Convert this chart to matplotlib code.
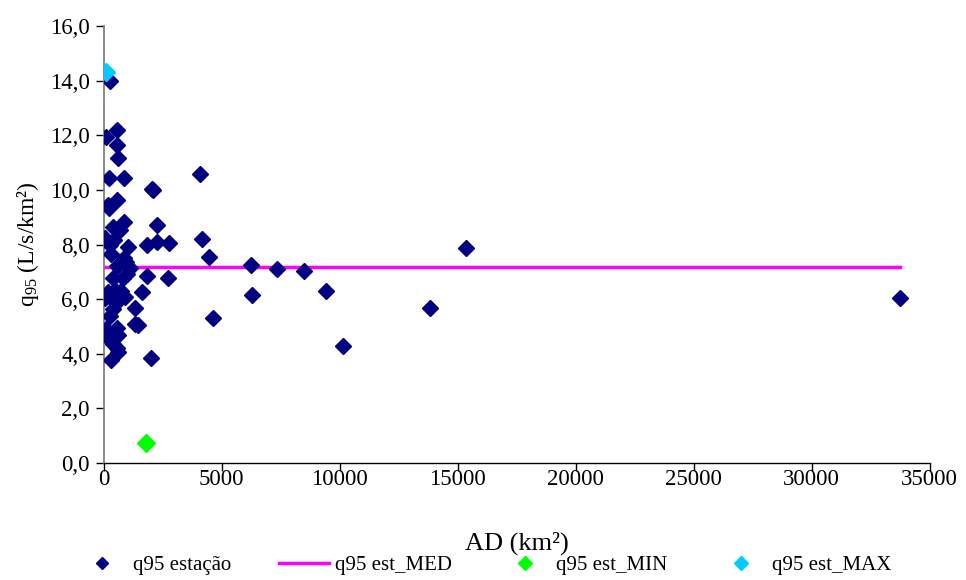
import matplotlib
matplotlib.use("Agg")
import matplotlib.pyplot as plt
from matplotlib.ticker import FuncFormatter, MultipleLocator

plt.rcParams['font.family'] = ['Liberation Serif', 'DejaVu Serif']
plt.rcParams['mathtext.fontset'] = 'custom'
plt.rcParams['mathtext.rm'] = 'Liberation Serif'
plt.rcParams['mathtext.it'] = 'Liberation Serif'

# station data: drainage area (km²) and q95 (L/s/km²)
ad_estacao = [260, 560, 90, 560, 630, 250, 870, 4100, 2050, 2110, 560, 180, 240,
              870, 420, 700, 2250, 60, 450, 270, 1030, 1830, 2250, 2780, 4160,
              330, 4480, 880, 960, 590, 1110, 1010, 400, 830, 1860, 2720,
              470, 760, 190, 1650, 900, 330, 50, 620, 400, 1320, 4650, 270,
              1340, 1470, 120, 550, 30, 620, 270, 420, 560, 620, 320, 2020,
              6240, 6270, 7340, 8510, 9430, 10140, 13830, 15360, 33750]
q95_estacao = [14.0, 12.19, 11.94, 11.63, 11.16, 10.42, 10.42, 10.59, 10.05, 9.98, 9.63, 9.44, 9.33,
               8.81, 8.65, 8.53, 8.71, 8.25, 8.18, 7.98, 7.92, 7.98, 8.10, 8.04, 8.19,
               7.64, 7.55, 7.49, 7.37, 7.22, 7.13, 6.91, 6.76, 6.79, 6.85, 6.77,
               6.33, 6.30, 6.25, 6.28, 6.09, 6.03, 6.05, 5.95, 5.64, 5.69, 5.30, 5.38,
               5.08, 5.06, 4.90, 4.95, 4.83, 4.70, 4.50, 4.35, 4.22, 4.06, 3.78, 3.85,
               7.24, 6.16, 7.09, 7.02, 6.29, 4.28, 5.69, 7.87, 6.04]

q95_med = 7.18
ad_min = [1790]
q95_min = [0.74]
ad_max = [93]
q95_max = [14.31]

x_ticks = [0, 5000, 10000, 15000, 20000, 25000, 30000, 35000]

fig = plt.figure(figsize=(9.66, 5.8), dpi=100)
ax = fig.add_axes([0.1072, 0.2017, 0.8551, 0.7533])

ax.plot(ad_estacao, q95_estacao, linestyle='none', marker='D', markersize=8,
        color='#000080', markeredgecolor='#000080', label='q95 estação', zorder=3)
ax.plot([min(ad_estacao), max(ad_estacao)], [q95_med, q95_med], color='#FF00FF',
        linewidth=2.5, label='q95 est_MED', zorder=2)
ax.plot(ad_min, q95_min, linestyle='none', marker='D', markersize=9.5,
        color='#00FF00', label='q95 est_MIN', zorder=4)
ax.plot(ad_max, q95_max, linestyle='none', marker='D', markersize=9.5,
        color='#00CCFF', label='q95 est_MAX', zorder=4)

ax.set_xlim(0, 35000)
ax.set_ylim(0, 16)
ax.set_xticks(x_ticks)
ax.yaxis.set_major_locator(MultipleLocator(2))
ax.yaxis.set_major_formatter(FuncFormatter(lambda v, p: f"{v:.1f}".replace('.', ',')))
ax.xaxis.set_major_formatter(FuncFormatter(lambda v, p: f"{int(v)}"))

for s in ['top', 'right']:
    ax.spines[s].set_visible(False)
ax.spines['left'].set_color('#808080')
ax.spines['left'].set_linewidth(1.3)
ax.spines['bottom'].set_color('black')
ax.spines['bottom'].set_linewidth(1.0)
ax.tick_params(axis='both', direction='out', length=6, width=1, labelsize=16.5, pad=4)
ax.tick_params(axis='x', pad=-2)

ax.set_xlabel('AD (km²)', fontsize=19, labelpad=30)
ax.set_ylabel(r'q$_{95}$ (L/s/km²)', fontsize=17, labelpad=6)

leg = fig.legend(loc='lower center', bbox_to_anchor=(0.501, -0.024), ncol=4, frameon=False,
                 fontsize=15, handlelength=2.4, columnspacing=2.3, handletextpad=0.3,
                 markerscale=0.75)

fig.savefig('out.png', dpi=100)
